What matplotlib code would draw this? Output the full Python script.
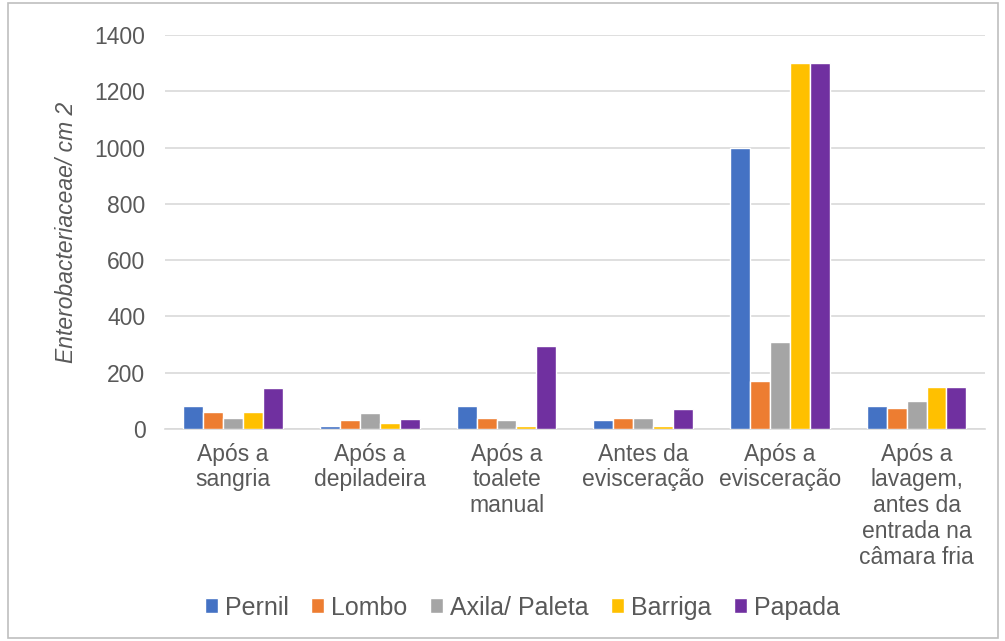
import numpy as np
import matplotlib.pyplot as plt
from matplotlib.patches import Rectangle

plt.rcParams['font.family'] = ['Liberation Sans', 'DejaVu Sans']

stages = ['Após a\nsangria', 'Após a\ndepiladeira', 'Após a\ntoalete\nmanual',
          'Antes da\nevisceração', 'Após a\nevisceração',
          'Após a\nlavagem,\nantes da\nentrada na\ncâmara fria']
pernil = [80, 10, 80, 30, 1000, 80]
lombo = [60, 30, 40, 40, 170, 75]
axila = [40, 55, 30, 40, 310, 100]
barriga = [60, 20, 10, 10, 1300, 150]
papada = [145, 35, 295, 70, 1300, 150]

series = [('Pernil', pernil, '#4472C4'),
          ('Lombo', lombo, '#ED7D31'),
          ('Axila/ Paleta', axila, '#A5A5A5'),
          ('Barriga', barriga, '#FFC000'),
          ('Papada', papada, '#7030A0')]

text_color = '#595959'

fig = plt.figure(figsize=(10.05, 6.41), dpi=100)
ax = fig.add_axes([0.164, 0.331, 0.816, 0.614])

x = np.arange(len(stages))
w = 0.146
for i, (name, vals, col) in enumerate(series):
    ax.bar(x + (i - 2) * w, vals, w, color=col, edgecolor='white',
           linewidth=1, label=name, zorder=3)

ax.set_xlim(-0.5, len(stages) - 0.5)
ax.set_ylim(0, 1400)
ax.set_yticks(range(0, 1401, 200))
ax.yaxis.grid(True, color='#D9D9D9', linewidth=1.2, zorder=0)
ax.tick_params(length=0, colors=text_color)
ax.tick_params(axis='y', pad=14, labelsize=16.5)
ax.set_xticks(x)
ax.set_xticklabels(stages, fontsize=16.5, color=text_color, linespacing=1.15)
ax.tick_params(axis='x', pad=10)
for s in ['top', 'right', 'left']:
    ax.spines[s].set_visible(False)
ax.spines['bottom'].set_color('#D9D9D9')
ax.spines['bottom'].set_linewidth(1.2)

ax.set_ylabel('Enterobacteriaceae/ cm 2', fontsize=16.5, style='italic',
              color=text_color, labelpad=12)

fig.legend(loc='center', bbox_to_anchor=(0.52, 0.052), ncol=5,
           frameon=False, fontsize=18, handlelength=0.5, handleheight=0.55,
           handletextpad=0.3, columnspacing=0.9, labelcolor=text_color)

fig.patches.append(Rectangle((0.008, 0.005), 0.985, 0.99, transform=fig.transFigure,
                             fill=False, edgecolor='#BFBFBF', linewidth=1.2))

fig.savefig('out.png', dpi=100)
